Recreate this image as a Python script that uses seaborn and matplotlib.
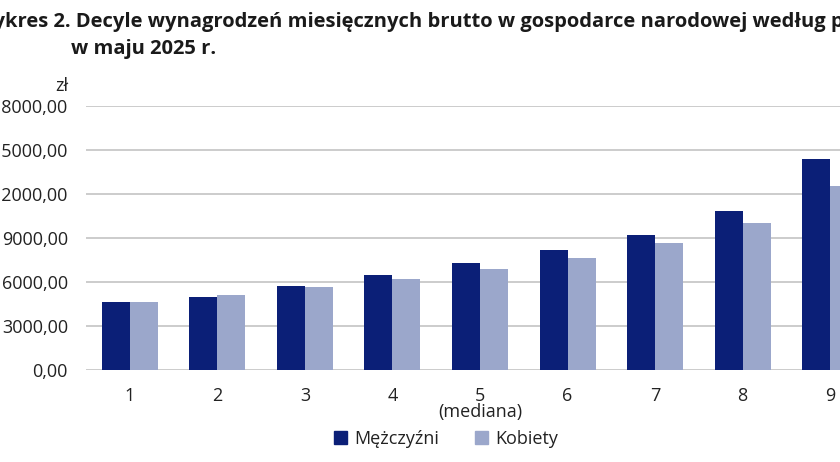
import matplotlib
matplotlib.use("Agg")
import pandas as pd
import seaborn as sns
from matplotlib import pyplot as plt
from matplotlib.patches import Patch
from matplotlib.ticker import FuncFormatter

deciles = ["1", "2", "3", "4", "5\n(mediana)", "6", "7", "8", "9"]
men = [4660, 4960, 5730, 6500, 7275, 8185, 9205, 10825, 14370]
women = [4640, 5115, 5640, 6185, 6890, 7660, 8640, 10045, 12570]
series = ["Mężczyźni", "Kobiety"]
colors = ["#0b1f77", "#9ba7cb"]

title_line1 = "Wykres 2. Decyle wynagrodzeń miesięcznych brutto w gospodarce narodowej według płci"
title_line2 = "w maju 2025 r."

df = pd.DataFrame({
    "decyl": deciles * 2,
    "wartosc": men + women,
    "plec": [series[0]] * len(men) + [series[1]] * len(women),
})

sns.set_style("white")
plt.rcParams["font.family"] = ["Open Sans", "DejaVu Sans"]

fig = plt.figure(figsize=(8.4, 4.62), dpi=100)
ax = fig.add_axes([0.1024, 0.199, 0.938, 0.5714])

sns.barplot(data=df, x="decyl", y="wartosc", hue="plec", palette=colors,
            width=0.64, saturation=1, linewidth=0, legend=False, ax=ax, zorder=3)

ax.set_ylim(0, 18000)
ax.set_yticks(range(0, 18001, 3000))
ax.yaxis.set_major_formatter(FuncFormatter(lambda v, _: f"{v:.2f}".replace(".", ",")))
ax.grid(axis="y", color="#c4c4c4", linewidth=1.2, zorder=0)
ax.set_axisbelow(True)
for s in ax.spines.values():
    s.set_visible(False)
ax.tick_params(axis="both", length=0, labelsize=13, colors="#222222")
ax.tick_params(axis="y", pad=13)
ax.tick_params(axis="x", pad=12)
for lab in ax.get_xticklabels():
    lab.set_linespacing(0.9)
ax.set_xlabel("")
ax.set_ylabel("")

fig.text(0.081, 0.813, "zł", ha="right", va="center", fontsize=13, color="#222222")

fig.text(-0.031, 0.952, title_line1, ha="left", va="center", fontsize=14.5,
         fontweight="bold", color="#1a1a1a")
fig.text(0.0845, 0.894, title_line2, ha="left", va="center", fontsize=14.5,
         fontweight="bold", color="#1a1a1a")

handles = [Patch(color=c, label=l) for c, l in zip(colors, series)]
fig.legend(handles=handles, loc="center", bbox_to_anchor=(0.531, 0.05), ncol=2,
           frameon=False, fontsize=13, handlelength=0.7, handleheight=0.7,
           handletextpad=0.4, columnspacing=2.0, labelcolor="#222222")

fig.savefig("out.png", dpi=100)
